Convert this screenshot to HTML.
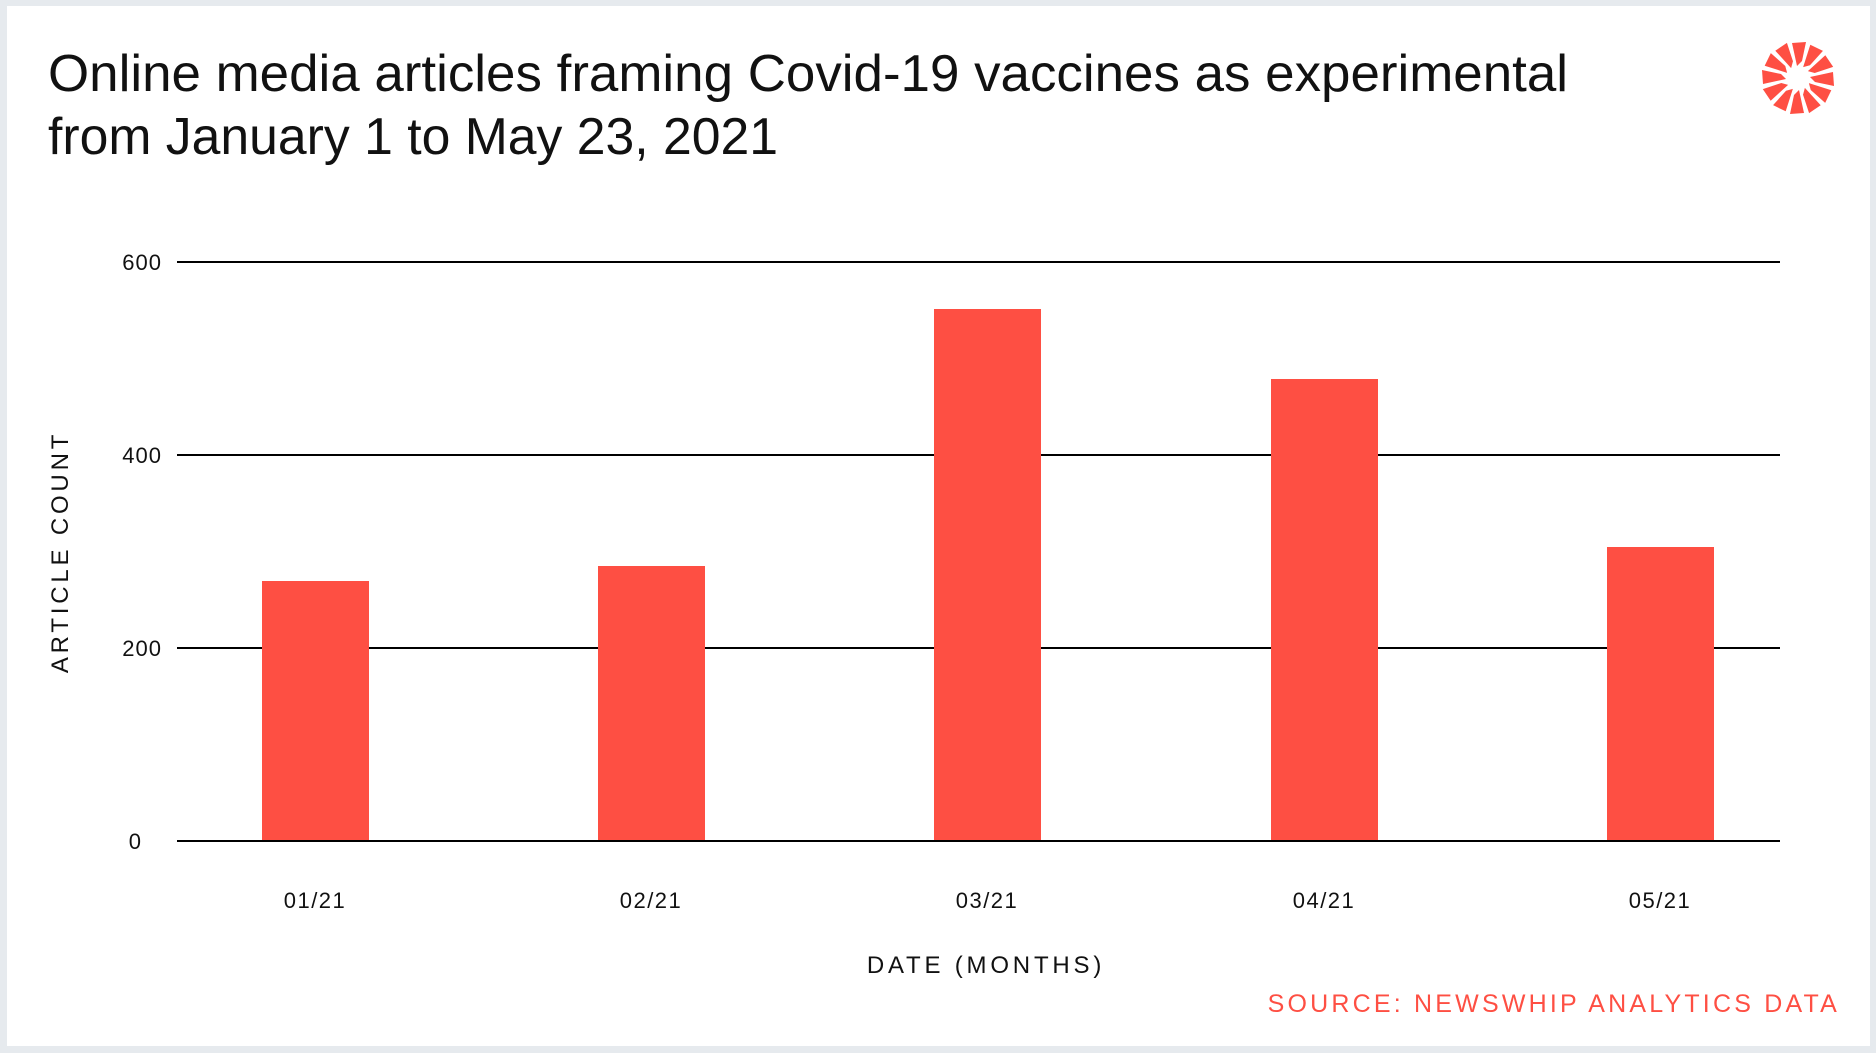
<!DOCTYPE html>
<html><head><meta charset="utf-8"><style>
body{margin:0;width:1876px;height:1053px;background:#e6eaee;font-family:"Liberation Sans",sans-serif;overflow:hidden}
#c{position:absolute;left:7px;top:6px;width:1863px;height:1040px;background:#fff}
</style></head><body>
<div id="c"></div>
<svg width="1876" height="1053" style="position:absolute;left:0;top:0" font-family="Liberation Sans, sans-serif">
<text x="48" y="91" font-size="52" fill="#111" textLength="1520" lengthAdjust="spacingAndGlyphs">Online media articles framing Covid-19 vaccines as experimental</text>
<text x="48" y="154" font-size="52" fill="#111" textLength="730" lengthAdjust="spacingAndGlyphs">from January 1 to May 23, 2021</text>
<g fill="#fe4f43" transform="translate(1798,78)">
<g id="p"><polygon points="-1,-12 4,-17 8,-36 -6,-35"/></g>
<use href="#p" transform="rotate(30)"/><use href="#p" transform="rotate(60)"/><use href="#p" transform="rotate(90)"/><use href="#p" transform="rotate(120)"/><use href="#p" transform="rotate(150)"/><use href="#p" transform="rotate(180)"/><use href="#p" transform="rotate(210)"/><use href="#p" transform="rotate(240)"/><use href="#p" transform="rotate(270)"/><use href="#p" transform="rotate(300)"/><use href="#p" transform="rotate(330)"/>
</g>
<g stroke="#000" stroke-width="2">
<line x1="177" x2="1780" y1="262" y2="262"/><line x1="177" x2="1780" y1="455" y2="455"/><line x1="177" x2="1780" y1="648" y2="648"/>
</g>
<g fill="#fe4f43">
<rect x="262" y="581" width="107" height="260"/>
<rect x="598" y="566" width="107" height="275"/>
<rect x="934" y="309" width="107" height="532"/>
<rect x="1271" y="379" width="107" height="462"/>
<rect x="1607" y="547" width="107" height="294"/>
</g>
<line x1="177" x2="1780" y1="841" y2="841" stroke="#000" stroke-width="2"/>
<g font-size="22" fill="#111" text-anchor="end" letter-spacing="1">
<text x="162" y="270">600</text><text x="162" y="463">400</text><text x="162" y="656">200</text><text x="142" y="849">0</text>
</g>
<g font-size="22" fill="#111" text-anchor="middle" letter-spacing="1.5">
<text x="315" y="908">01/21</text><text x="651" y="908">02/21</text><text x="987" y="908">03/21</text><text x="1324" y="908">04/21</text><text x="1660" y="908">05/21</text>
<text x="986" y="973" font-size="24" letter-spacing="3.8">DATE (MONTHS)</text>
<text transform="translate(68,552) rotate(-90)" font-size="24" letter-spacing="3.8">ARTICLE COUNT</text>
</g>
<text x="1840" y="1012" font-size="25" fill="#fe4f43" text-anchor="end" letter-spacing="3.2">SOURCE: NEWSWHIP ANALYTICS DATA</text>
</svg>
</body></html>
